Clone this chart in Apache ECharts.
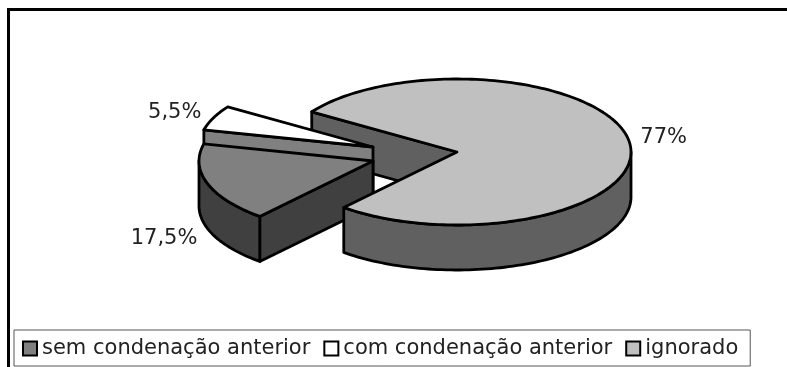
<!DOCTYPE html>
<html>
<head>
<meta charset="utf-8">
<style>
    html, body { margin: 0; padding: 0; background: #fff; }
    #main { width: 787px; height: 367px; }
</style>
</head>
<body>
<div id="main"></div>
<script src="https://cdn.jsdelivr.net/npm/echarts@6/dist/echarts.min.js"></script>
<script type="text/javascript">
    // dados
    var categories = ['sem condenação anterior', 'com condenação anterior', 'ignorado'];
    var values = [17.5, 5.5, 77];
    var labels = ['17,5%', '5,5%', '77%'];

    var topColors = ['#808080', '#ffffff', '#c0c0c0'];
    var sideColors = ['#404040', '#808080', '#606060'];

    // geometria da pizza 3D
    var RX = 174, RY = 73, DEPTH = 45;
    var START_ANGLE = 130.6;                                 // graus, sentido horario a partir do leste
    var centers = [[373, 161], [373, 147], [457, 152]];      // fatias destacadas
    var labelOffset = [[-10, 55], [-12, -5], [11, -4]];

    var total = values.reduce(function (a, b) { return a + b; }, 0);

    function rad(deg) { return deg * Math.PI / 180; }

    function rimPoint(c, deg, dy) {
        return [c[0] + RX * Math.cos(rad(deg)), c[1] + RY * Math.sin(rad(deg)) + (dy || 0)];
    }

    function arcPoints(c, from, to, dy) {
        var pts = [];
        var n = Math.max(2, Math.ceil(Math.abs(to - from) / 1.5));
        for (var i = 0; i <= n; i++) {
            pts.push(rimPoint(c, from + (to - from) * i / n, dy));
        }
        return pts;
    }

    function poly(points, fill) {
        return {
            type: 'polygon',
            shape: { points: points },
            style: { fill: fill, stroke: '#000', lineWidth: 2.8, lineJoin: 'round' }
        };
    }

    // parede plana do corte, do centro ate a borda
    function cutWall(c, deg, fill) {
        var rim = rimPoint(c, deg);
        return poly([c, rim, [rim[0], rim[1] + DEPTH], [c[0], c[1] + DEPTH]], fill);
    }

    // parede curva, so a parte voltada para a frente (seno > 0)
    function arcWalls(c, from, to, fill) {
        var out = [];
        [[0, 180], [360, 540]].forEach(function (range) {
            var a = Math.max(from, range[0]), b = Math.min(to, range[1]);
            if (a < b) {
                out.push(poly(arcPoints(c, a, b, 0).concat(arcPoints(c, b, a, DEPTH)), fill));
            }
        });
        return out;
    }

    function sliceAngles(idx) {
        var before = 0;
        for (var i = 0; i < idx; i++) before += values[i];
        return [START_ANGLE + before / total * 360, START_ANGLE + (before + values[idx]) / total * 360];
    }

    function renderSlice(params, api) {
        var idx = api.value(0);
        var ang = sliceAngles(idx);
        var c = centers[idx];
        var children = [];

        if (idx === 0 || idx === 1) {
            children.push(cutWall(c, ang[0], sideColors[idx]));
        }
        children = children.concat(arcWalls(c, ang[0], ang[1], sideColors[idx]));
        children.push(poly([c].concat(arcPoints(c, ang[0], ang[1], 0)), topColors[idx]));

        var mid = rimPoint(c, (ang[0] + ang[1]) / 2);
        children.push({
            type: 'text',
            style: {
                x: mid[0] + labelOffset[idx][0],
                y: mid[1] + labelOffset[idx][1],
                text: labels[idx],
                fill: '#222',
                font: '21px "DejaVu Sans"',
                align: idx === 2 ? 'left' : 'right',
                verticalAlign: 'middle'
            }
        });
        return { type: 'group', children: children };
    }

    // parede de tras da fatia grande, fica atras das fatias destacadas
    function renderBackWall(params, api) {
        var ang = sliceAngles(2);
        return cutWall(centers[2], ang[0], sideColors[2]);
    }

    function sliceSeries(idx, z) {
        return {
            name: categories[idx],
            type: 'custom',
            coordinateSystem: 'none',
            z: z,
            silent: true,
            animation: false,
            itemStyle: { color: topColors[idx] },
            renderItem: renderSlice,
            data: [[idx, values[idx]]]
        };
    }

    var myChart = echarts.init(document.getElementById('main'));

    var option = {
        animation: false,
        backgroundColor: '#fff',
        legend: {
            data: categories,
            left: 14,
            top: 330,
            orient: 'horizontal',
            selectedMode: false,
            backgroundColor: '#fff',
            borderColor: '#555',
            borderWidth: 1,
            padding: [8, 12, 7, 8],
            itemWidth: 14,
            itemHeight: 14,
            itemGap: 13,
            icon: 'rect',
            itemStyle: { borderColor: '#000', borderWidth: 2 },
            textStyle: { color: '#222', fontFamily: 'DejaVu Sans', fontSize: 21 }
        },
        graphic: [{
            type: 'rect',
            shape: { x: 8.5, y: 9.5, width: 800, height: 380 },
            style: { fill: 'none', stroke: '#000', lineWidth: 3 },
            silent: true,
            z: 0
        }],
        series: [
            {
                type: 'custom',
                coordinateSystem: 'none',
                z: 1,
                silent: true,
                animation: false,
                renderItem: renderBackWall,
                data: [[2, values[2]]]
            },
            sliceSeries(1, 2),
            sliceSeries(0, 3),
            sliceSeries(2, 4)
        ]
    };

    myChart.setOption(option);
</script>
</body>
</html>
